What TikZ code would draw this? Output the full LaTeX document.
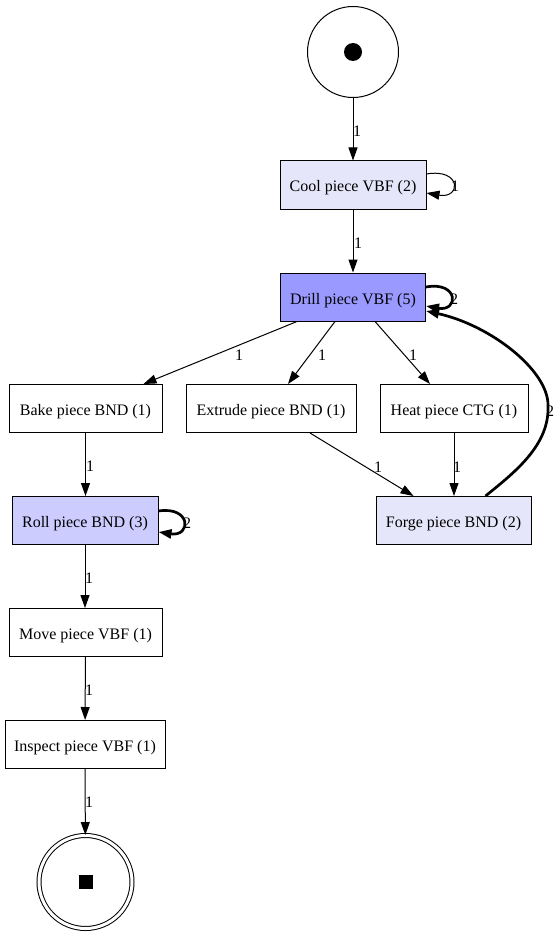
\documentclass[tikz,border=0pt]{standalone}
\usepackage{fontspec}
\setmainfont{Liberation Serif}
\usetikzlibrary{arrows.meta}
\definecolor{lav}{HTML}{E6E6FA}
\definecolor{drillc}{HTML}{9999FF}
\definecolor{rollc}{HTML}{CCCCFF}
\tikzset{
  trans/.style={draw, rectangle, line width=1pt, inner sep=0pt, minimum height=48pt, text height=14pt, text depth=0pt, font=\fontsize{16}{19}\selectfont},
  arr/.style={line width=1pt, -{Triangle[length=13pt,width=9pt]}},
  thick arr/.style={line width=2.7pt, -{Triangle[length=13pt,width=9pt]}},
  lbl/.style={inner sep=0pt, font=\fontsize{16}{19}\selectfont},
}
\begin{document}
\begin{tikzpicture}[x=1pt,y=-1pt]
\useasboundingbox (0,0) rectangle (559,936);
% places
\node[draw, circle, line width=1pt, minimum size=91pt, inner sep=0pt] (start) at (353,52) {};
\node[fill, circle, minimum size=18pt, inner sep=0pt] (starttok) at (start) {};
\node[draw, circle, line width=1pt, double, double distance=3pt, minimum size=93pt, inner sep=0pt] (endp) at (85.5,882) {};
\node[fill, rectangle, minimum size=14pt, inner sep=0pt] (endtok) at (endp) {};
% transitions
\node[trans, fill=lav, minimum width=146pt] (cool) at (353,185) {Cool piece VBF (2)};
\node[trans, fill=drillc, minimum width=145pt] (drill) at (353,297) {Drill piece VBF (5)};
\node[trans, minimum width=153pt] (bake) at (85.5,408.5) {Bake piece BND (1)};
\node[trans, minimum width=170pt] (extrude) at (271,408.5) {Extrude piece BND (1)};
\node[trans, minimum width=148pt] (heat) at (454,408.5) {Heat piece CTG (1)};
\node[trans, fill=rollc, minimum width=146pt] (roll) at (85,520.5) {Roll piece BND (3)};
\node[trans, fill=lav, minimum width=155pt] (forge) at (453.5,520.5) {Forge piece BND (2)};
\node[trans, minimum width=153pt] (move) at (85.5,632.5) {Move piece VBF (1)};
\node[trans, minimum width=160pt] (inspect) at (85,744.5) {Inspect piece VBF (1)};
% arcs
\draw[arr] (start) -- (cool);
\draw[arr] ([yshift=11pt]cool.east) .. controls +(35,-6) and +(35,6) .. ([yshift=-8pt]cool.east);
\draw[arr] (cool) -- (drill);
\draw[thick arr] ([yshift=10pt]drill.east) .. controls +(33,-6) and +(33,6) .. ([yshift=-9pt]drill.east);
\draw[arr] ([xshift=-56pt]drill.south) -- ([xshift=58pt]bake.north);
\draw[arr] ([xshift=-18pt]drill.south) -- ([xshift=17pt]extrude.north);
\draw[arr] ([xshift=22pt]drill.south) -- ([xshift=-24pt]heat.north);
\draw[arr] (bake.south) -- (bake.south |- roll.north);
\draw[arr] ([xshift=39pt]extrude.south) -- ([xshift=-40pt]forge.north);
\draw[arr] (heat.south) -- (heat.south |- forge.north);
\draw[thick arr] ([xshift=32pt]forge.north) .. controls (515,472) and (550,445) .. (548,405)
   .. controls (548,370) and (490,325) .. ([yshift=-14pt]drill.east);
\draw[thick arr] ([yshift=9.5pt]roll.east) .. controls +(33,-5) and +(33,5) .. ([yshift=-11.5pt]roll.east);
\draw[arr] (roll.south) -- (roll.south |- move.north);
\draw[arr] (move) -- (inspect);
\draw[arr] (inspect) -- (endp);
% labels
\node[lbl] (l1) at (357,131) {1};
\node[lbl] (l2) at (455,186) {1};
\node[lbl] (l3) at (358,243) {1};
\node[lbl] (l4) at (454,299) {2};
\node[lbl] (l5) at (239,355) {1};
\node[lbl] (l6) at (322,355) {1};
\node[lbl] (l7) at (413,355) {1};
\node[lbl] (l8) at (90,466) {1};
\node[lbl] (l9) at (378,467) {1};
\node[lbl] (l10) at (457,467) {1};
\node[lbl] (l11) at (550,411) {2};
\node[lbl] (l12) at (187,523) {2};
\node[lbl] (l13) at (89,578) {1};
\node[lbl] (l14) at (89,690) {1};
\node[lbl] (l15) at (89,802) {1};
\end{tikzpicture}
\end{document}
